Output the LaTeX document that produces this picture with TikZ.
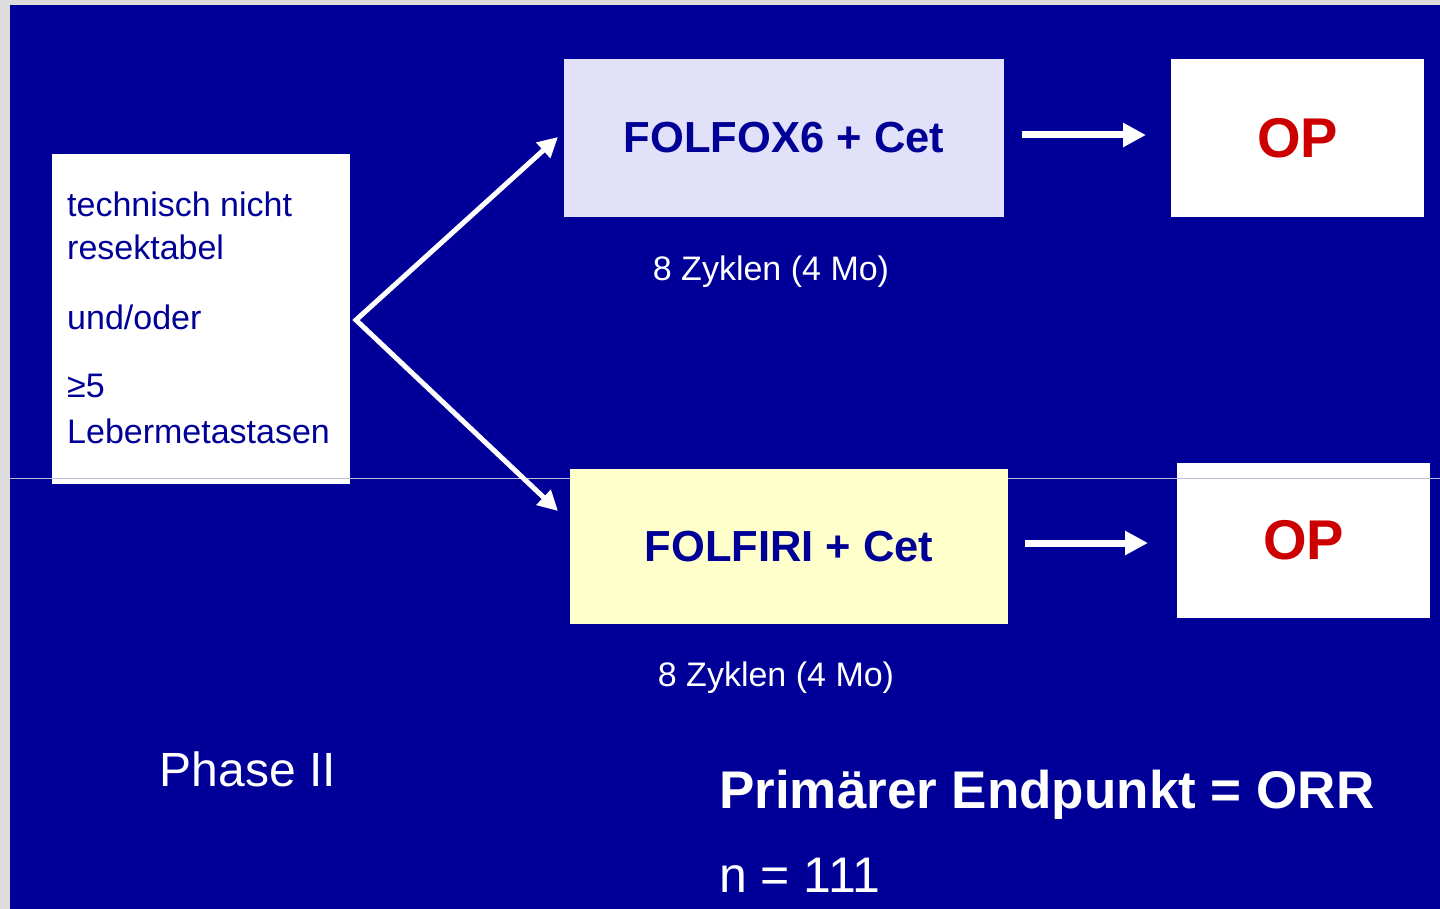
\documentclass[tikz,border=0pt]{standalone}
\usepackage{fontspec}
\setmainfont{Liberation Sans}
\usetikzlibrary{arrows.meta}
\definecolor{bgblue}{RGB}{0,0,153}
\definecolor{navy}{RGB}{0,0,150}
\definecolor{lav}{RGB}{225,225,250}
\definecolor{pale}{RGB}{255,255,204}
\definecolor{opred}{RGB}{204,0,0}
\definecolor{frame}{RGB}{221,221,221}
\begin{document}
\begin{tikzpicture}[x=1pt,y=-1pt,
  box/.style={anchor=north west, inner sep=0pt, outer sep=0pt},
  lefttxt/.style={anchor=base west, inner sep=0pt, text=navy, font=\fontsize{34}{40}\selectfont},
  cyc/.style={anchor=base, inner sep=0pt, text=white, font=\fontsize{34}{40}\selectfont},
  thin arr/.style={draw=white, line width=5pt, line join=miter,
     {Triangle[length=20pt,width=20pt]}-{Triangle[length=20pt,width=20pt]}},
  thick arr/.style={draw=white, line width=7pt, -{Triangle[length=23pt,width=23pt]}},
  drugtxt/.style={text=navy, font=\fontsize{43.5}{50}\selectfont\bfseries},
  optxt/.style={text=opred, font=\fontsize{56}{60}\selectfont\bfseries}]
\useasboundingbox (0,0) rectangle (1440,909);
\fill[frame] (0,0) rectangle (1440,909);
\fill[bgblue] (10,5) rectangle (1440,909);

% left box and OP boxes
\node[box, fill=white, minimum width=298pt, minimum height=330pt] (crit) at (52,154) {};
\node[box, fill=white, minimum width=253pt, minimum height=158pt, optxt] (op1) at (1171,59) {OP};
\node[box, fill=white, minimum width=253pt, minimum height=155pt, optxt] (op2) at (1177,463) {OP};

% thin horizontal line
\coordinate (hl1) at (10,478);
\coordinate (hl2) at (1440,478);
\draw[line width=0.8pt, draw={rgb,255:red,190;green,190;blue,220}] (hl1) -- (hl2);

% therapy boxes
\node[box, fill=lav, minimum width=440pt, minimum height=158pt, drugtxt] (fx) at (564,59) {FOLFOX6 + Cet};
\node[box, fill=pale, minimum width=438pt, minimum height=155pt, drugtxt] (fi) at (570,469) {FOLFIRI + Cet};

% left box text
\node[lefttxt] (t1) at (67,217) {technisch nicht};
\node[lefttxt] (t2) at (67,260) {resektabel};
\node[lefttxt] (t3) at (67,330) {und/oder};
\node[lefttxt] (t4) at (67,397) {≥5};
\node[lefttxt] (t5) at (67,443) {Lebermetastasen};

% cycles
\node[cyc] (c1) at (771,280) {8 Zyklen (4 Mo)};
\node[cyc] (c2) at (776,686) {8 Zyklen (4 Mo)};

% bottom texts
\node[anchor=base, inner sep=0pt, text=white, font=\fontsize{48}{52}\selectfont] (ph) at (248,786) {Phase II};
\node[anchor=base west, inner sep=0pt, text=white, font=\fontsize{53}{58}\selectfont\bfseries] (ep) at (719,808) {Primärer Endpunkt = ORR};
\node[anchor=base west, inner sep=0pt, text=white, font=\fontsize{50}{54}\selectfont] (n) at (719,892) {n = 111};

% branching arrows
\coordinate (v) at (356,320);
\coordinate (a1) at (558,137);
\coordinate (a2) at (558,511);
\draw[thin arr] (a1) -- (v) -- (a2);

% horizontal arrows
\coordinate (h1s) at (1022,135);
\coordinate (h1e) at (1146,135);
\coordinate (h2s) at (1025,543);
\coordinate (h2e) at (1148,543);
\draw[thick arr] (h1s) -- (h1e);
\draw[thick arr] (h2s) -- (h2e);
\end{tikzpicture}
\end{document}
